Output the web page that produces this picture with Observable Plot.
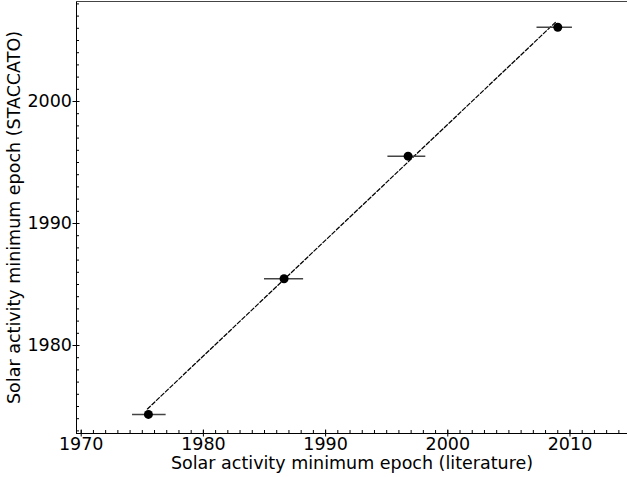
<!DOCTYPE html>
<html>
<head>
<meta charset="utf-8">
<script src="https://cdn.jsdelivr.net/npm/d3@7"></script>
<script src="https://cdn.jsdelivr.net/npm/@observablehq/plot@0.6"></script>
<style>
  html, body { margin: 0; padding: 0; background: white; }
</style>
</head>
<body>
<div id="chart"></div>
<script>
// Solar activity minimum epochs
const literatureEpoch = [1975.5, 1986.6, 1996.75, 2009.0];
const literatureLow   = [1974.2, 1985.0, 1995.1, 2007.3];
const literatureHigh  = [1976.95, 1988.2, 1998.2, 2010.2];
const staccatoEpoch   = [1974.35, 1985.47, 1995.52, 2006.09];

// dashed fit line end points
const fitX = [1975.42, 2008.9];
const fitY = [1974.8, 2006.58];

const majorTicksX = [1970, 1980, 1990, 2000, 2010];
const minorTicksX = d3.range(1970, 2015, 1);
const majorTicksY = [1980, 1990, 2000];
const minorTicksY = d3.range(1973, 2009, 1);

const xLabel = "Solar activity minimum epoch (literature)";
const yLabel = "Solar activity minimum epoch (STACCATO)";

const points = literatureEpoch.map((x, i) => ({
  x, lo: literatureLow[i], hi: literatureHigh[i], y: staccatoEpoch[i]
}));
const fit = fitX.map((x, i) => ({x, y: fitY[i]}));

const fmt = d3.format("d");
const FS = 17.5;

const chart = Plot.plot({
  width: 627,
  height: 477,
  marginLeft: 76,
  marginRight: 0,
  marginTop: 1,
  marginBottom: 44,
  style: {fontFamily: "'DejaVu Sans', sans-serif", fontSize: FS + "px", color: "black", background: "white", overflow: "visible"},
  x: {domain: [1969.615, 2014.706]},
  y: {domain: [1972.787, 2008.197]},
  marks: [
    Plot.frame({anchor: "left", stroke: "black"}),
    Plot.frame({anchor: "bottom", stroke: "black"}),
    Plot.frame({anchor: "top", stroke: "#444"}),
    // minor ticks (inward)
    Plot.axisX({ticks: minorTicksX, tickSize: -3, tickFormat: () => "", label: null}),
    Plot.axisY({ticks: minorTicksY, tickSize: -3, tickFormat: () => "", label: null}),
    // major ticks (in and out)
    Plot.axisX({ticks: majorTicksX, tickSize: -3.5, tickFormat: () => "", label: null}),
    Plot.axisY({ticks: majorTicksY, tickSize: -3.5, tickFormat: () => "", label: null}),
    Plot.axisX({ticks: majorTicksX, tickSize: 3.5, tickPadding: 1, tickFormat: fmt, fontSize: FS,
      label: xLabel, labelAnchor: "center", labelOffset: 35, labelArrow: "none"}),
    Plot.axisY({ticks: majorTicksY, tickSize: 3.5, tickPadding: 1, tickFormat: fmt, fontSize: FS,
      label: yLabel, labelAnchor: "center", labelOffset: 69, labelArrow: "none"}),
    Plot.line(fit, {x: "x", y: "y", stroke: "black", strokeWidth: 1.25, strokeDasharray: "4,2.2"}),
    Plot.ruleY(points, {y: "y", x1: "lo", x2: "hi", stroke: "#444", strokeWidth: 1.5}),
    Plot.dot(points, {x: "x", y: "y", r: 4.5, fill: "black", stroke: "none"})
  ]
});

document.getElementById("chart").appendChild(chart);
</script>
</body>
</html>
